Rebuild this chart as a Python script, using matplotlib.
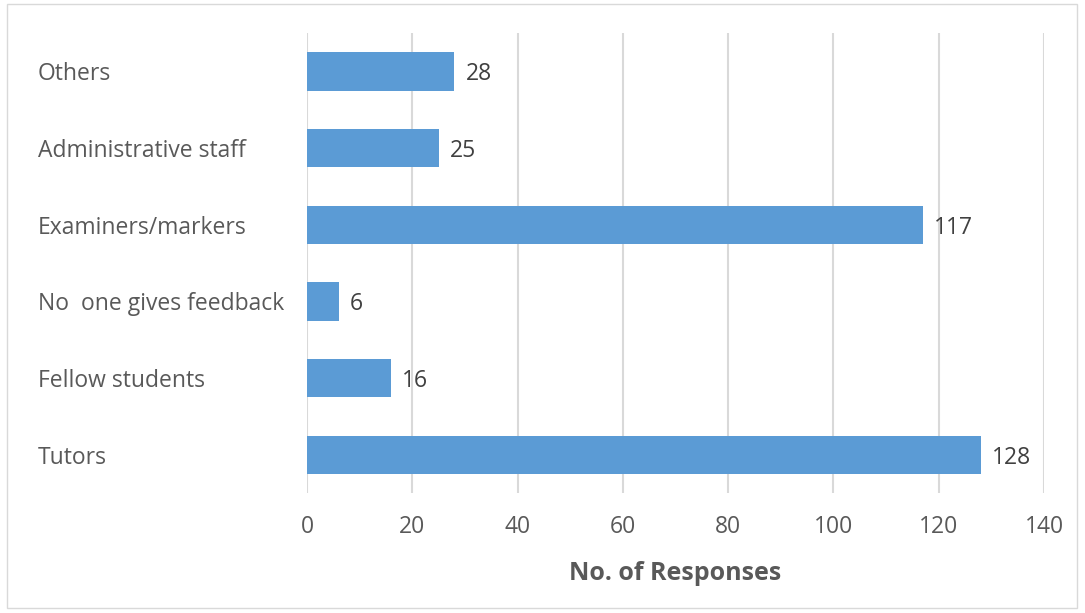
import matplotlib.pyplot as plt
from matplotlib.patches import Rectangle

categorias = ["Tutors", "Fellow students", "No  one gives feedback",
              "Examiners/markers", "Administrative staff", "Others"]
respostas = [128, 16, 6, 117, 25, 28]
ticks_x = [0, 20, 40, 60, 80, 100, 120, 140]

plt.rcParams['font.family'] = ['Open Sans', 'DejaVu Sans']
cinza = '#595959'

fig = plt.figure(figsize=(10.85, 6.13), dpi=100)
ax = fig.add_axes([307 / 1085, 1 - 493 / 613, (1044 - 307) / 1085, (493 - 33) / 613])

pos = list(range(len(categorias)))
barras = ax.barh(pos, respostas, height=0.5, color='#5B9BD5', zorder=3)
for b, v in zip(barras, respostas):
    ax.annotate(str(v), (b.get_width(), b.get_y() + b.get_height() / 2),
                xytext=(8, 0), textcoords='offset points', va='center_baseline',
                fontsize=16.5, color='#404040')

ax.set_xlim(0, 140)
ax.set_ylim(-0.5, len(categorias) - 0.5)
ax.set_xticks(ticks_x)
ax.set_yticks(pos)
ax.set_yticklabels(categorias, ha='left', va='center_baseline')
ax.tick_params(axis='y', length=0, pad=269 * 0.72, labelsize=16.5, labelcolor=cinza)
ax.tick_params(axis='x', length=0, pad=16, labelsize=16.5, labelcolor=cinza)
ax.grid(axis='x', color='#D9D9D9', linewidth=1.5, zorder=0)
for s in ax.spines.values():
    s.set_visible(False)

ax.set_xlabel("No. of Responses", fontsize=18, fontweight='bold', color=cinza, labelpad=16)

fig.patches.append(Rectangle((0.006, 0.008), 0.987, 0.985, transform=fig.transFigure,
                             fill=False, edgecolor='#D9D9D9', linewidth=1))

plt.savefig('out.png', dpi=100)
